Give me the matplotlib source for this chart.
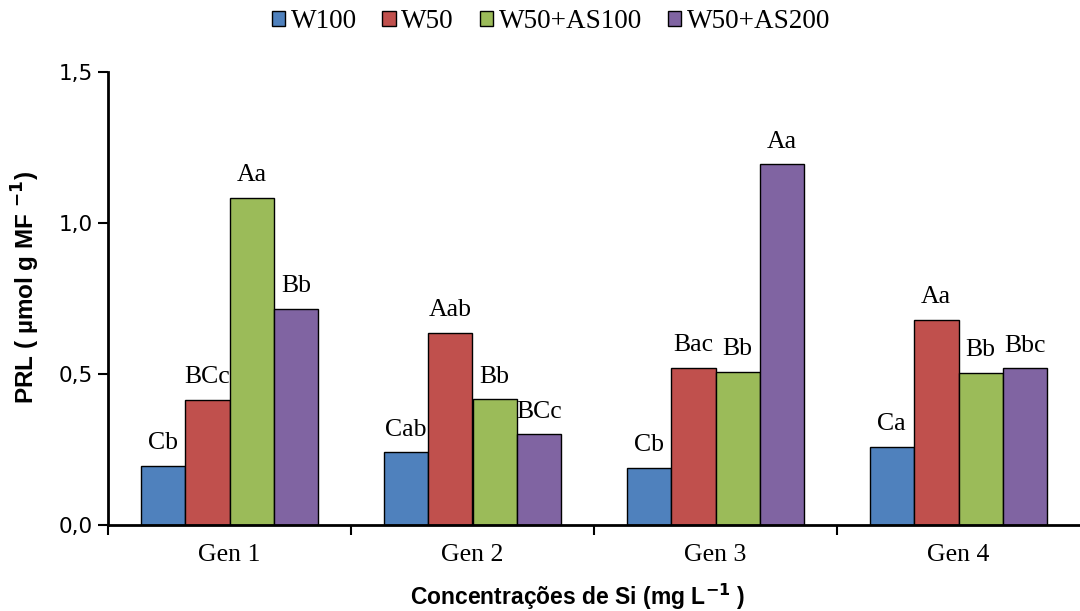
import matplotlib.pyplot as plt
import numpy as np

# data
genotypes = ['Gen 1', 'Gen 2', 'Gen 3', 'Gen 4']
treatments = ['W100', 'W50', 'W50+AS100', 'W50+AS200']
w100 = [0.195, 0.241, 0.190, 0.258]
w50 = [0.414, 0.637, 0.521, 0.679]
w50_as100 = [1.083, 0.416, 0.506, 0.504]
w50_as200 = [0.715, 0.300, 1.194, 0.519]
letters_w100 = ['Cb', 'Cab', 'Cb', 'Ca']
letters_w50 = ['BCc', 'Aab', 'Bac', 'Aa']
letters_as100 = ['Aa', 'Bb', 'Bb', 'Bb']
letters_as200 = ['Bb', 'BCc', 'Aa', 'Bbc']

series = [w100, w50, w50_as100, w50_as200]
letters = [letters_w100, letters_w50, letters_as100, letters_as200]
colors = ['#4F81BD', '#C0504D', '#9BBB59', '#8064A2']

serif = 'Liberation Serif'

fig = plt.figure(figsize=(10.8, 6.11), dpi=100)
ax = fig.add_axes([0.1, 0.1408, 0.9, 0.7414])

x = np.arange(len(genotypes))
width = 0.183
offsets = (np.arange(4) - 1.5) * width

for i in range(4):
    bars = ax.bar(x + offsets[i], series[i], width, color=colors[i],
                  edgecolor='black', linewidth=1.0, label=treatments[i])
    for b, lab in zip(bars, letters[i]):
        ax.annotate(lab, (b.get_x() + b.get_width() / 2, b.get_height()),
                    xytext=(0, 12), textcoords='offset points',
                    ha='center', va='baseline', fontsize=18.5,
                    family=serif)

ax.set_xlim(-0.5, 3.5)
ax.set_ylim(0, 1.5)
ax.set_yticks([0, 0.5, 1.0, 1.5])
ax.set_yticklabels(['0,0', '0,5', '1,0', '1,5'], fontsize=15.5)

# category labels centred, ticks between categories
ax.set_xticks(x)
ax.set_xticklabels(genotypes, fontsize=18.5, family=serif)
ax.tick_params(axis='x', length=0, pad=14)
ax.set_xticks([-0.5, 0.5, 1.5, 2.5], minor=True)
ax.tick_params(axis='x', which='minor', length=7, width=1.5, direction='out')
ax.tick_params(axis='y', length=7, width=1.5, direction='out', pad=4)

for s in ['top', 'right']:
    ax.spines[s].set_visible(False)
ax.spines['left'].set_linewidth(2)
ax.spines['bottom'].set_linewidth(2)

ax.set_ylabel('PRL ( µmol g MF $^{\\mathbf{-1}}$)', fontsize=17.5,
              fontweight='bold', family='Liberation Sans', labelpad=12)
ax.yaxis.label.set_y(0.525)
ax.set_xlabel('Concentrações de Si (mg L$^{\\mathbf{-1}}$ )', fontsize=16.5,
              fontweight='bold', family='Liberation Sans', labelpad=11)
ax.xaxis.label.set_x(0.4835)

leg = fig.legend(loc='upper center', bbox_to_anchor=(0.51, 1.025), ncol=4,
                 frameon=False, prop={'family': serif, 'size': 19.5},
                 handlelength=0.5, handleheight=0.5, handletextpad=0.2,
                 columnspacing=0.95)

plt.savefig('out.png', dpi=100, facecolor='white')
